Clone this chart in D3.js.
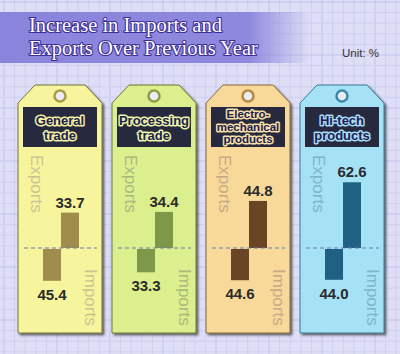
<!DOCTYPE html>
<html><head><meta charset="utf-8">
<script src="https://cdn.jsdelivr.net/npm/d3@7"></script>
<style>html,body{margin:0;padding:0;background:#dedef7;}svg{display:block;}</style>
</head><body>
<svg id="c" width="400" height="354"></svg>
<script>
// ---- data ----
const categories = ["General trade", "Processing trade", "Electro-mechanical products", "Hi-tech products"];
const categoryLines = [["General", "trade"], ["Processing", "trade"], ["Electro-", "mechanical", "products"], ["Hi-tech", "products"]];
const exportsIncrease = [33.7, 34.4, 44.8, 62.6];
const importsIncrease = [45.4, 33.3, 44.6, 44.0];
const seriesNames = ["Imports", "Exports"];
const titleLines = ["Increase in Imports and", "Exports Over Previous Year"];
const unitLabel = "Unit: %";

// ---- styles ----
const tagFill   = ["#f7f49e", "#dcef8e", "#f8d99a", "#a6e2f6"];
const tagStroke = ["#77733e", "#6a7838", "#86683a", "#3a7892"];
const sideText  = ["#c9c590", "#a9b97c", "#c6ab86", "#80b4c8"];
const barColor  = ["#a08c4c", "#7c9848", "#6a4424", "#1f6182"];
const ringColor = ["#a89c46", "#8aa040", "#b08a40", "#3d8aa8"];
const haloColor = ["#f4f0a0", "#eef6a8", "#f8e0a8", "#a8dcf8"];

const svg = d3.select("#c");
const W = 400, H = 354;

// background grid
svg.append("rect").attr("width", W).attr("height", H).attr("fill", "#dedef7");
const g0 = svg.append("g");
const gridStep = 10.6;
d3.range(4, W, gridStep).forEach((x, i) => g0.append("line").attr("x1", x).attr("x2", x).attr("y1", 0).attr("y2", H)
  .attr("stroke", i % 5 === 0 ? "#c2c2ea" : "#cfcff0").attr("stroke-width", 1));
d3.range(2, H, gridStep).forEach((y, i) => g0.append("line").attr("y1", y).attr("y2", y).attr("x1", 0).attr("x2", W)
  .attr("stroke", i % 5 === 0 ? "#c2c2ea" : "#cfcff0").attr("stroke-width", 1));

const defs = svg.append("defs");
const grad = defs.append("linearGradient").attr("id", "ban").attr("x1", "0").attr("x2", "1");
grad.append("stop").attr("offset", "0").attr("stop-color", "#8a84dc");
grad.append("stop").attr("offset", "0.8").attr("stop-color", "#8e88de");
grad.append("stop").attr("offset", "1").attr("stop-color", "#8e88de").attr("stop-opacity", 0);
const f = defs.append("filter").attr("id", "sh").attr("x", "-10%").attr("y", "-10%").attr("width", "130%").attr("height", "130%");
f.append("feDropShadow").attr("dx", 2).attr("dy", 2).attr("stdDeviation", 1.3).attr("flood-color", "#222").attr("flood-opacity", 0.65);

// title banner
svg.append("rect").attr("x", 0).attr("y", 12).attr("width", 310).attr("height", 51).attr("fill", "url(#ban)");
svg.append("g").selectAll("text").data(titleLines).join("text")
  .attr("x", 29).attr("y", (d, i) => 32 + i * 23)
  .attr("font-family", "Liberation Serif, Times New Roman, serif").attr("font-size", 20.5)
  .attr("fill", "#ffffff").attr("stroke", "#3c2e96").attr("stroke-width", 2.2)
  .attr("paint-order", "stroke").attr("stroke-linejoin", "round").text(d => d);

svg.append("text").attr("x", 342).attr("y", 57).attr("font-family", "Liberation Sans, Arial, sans-serif")
  .attr("font-size", 11.5).attr("fill", "#333").text(unitLabel);

// scales
const x = d3.scaleBand().domain(categories).range([18, 384]).paddingInner(10 / 94);
const w = x.bandwidth();
const xs = d3.scaleBand().domain(seriesNames).range([25, 61]);
const base = 248;
const yExp = d3.scaleLinear().domain([0, 70]).range([base, base - 73.5]);
const yImp = d3.scaleLinear().domain([0, 70]).range([base + 1, base + 50]);

const tags = svg.append("g").selectAll("g").data(categories).join("g")
  .attr("transform", d => `translate(${x(d)},0)`);

tags.append("path")
  .attr("d", `M17,85 L${w - 17},85 L${w},103 L${w},333 L0,333 L0,103 Z`)
  .attr("fill", (d, i) => tagFill[i]).attr("stroke", (d, i) => tagStroke[i]).attr("stroke-width", 1)
  .attr("filter", "url(#sh)");

// hole
tags.append("circle").attr("cx", w / 2).attr("cy", 96).attr("r", 5.5)
  .attr("fill", "#ececf8").attr("stroke", (d, i) => ringColor[i]).attr("stroke-width", 2.5);

// label box
tags.append("rect").attr("x", 5).attr("y", 107).attr("width", w - 10).attr("height", 40).attr("fill", "#272a3e");
tags.each(function (d, i) {
  const lines = categoryLines[i];
  const three = lines.length === 3;
  const fs = three ? 11.5 : 13;
  const y0 = three ? 118 : 125;
  const dy = three ? 12.5 : 15;
  d3.select(this).append("g").selectAll("text").data(lines).join("text")
    .attr("x", w / 2).attr("y", (t, j) => y0 + j * dy).attr("text-anchor", "middle")
    .attr("font-family", "Liberation Sans, Arial, sans-serif").attr("font-weight", "bold").attr("font-size", fs)
    .attr("fill", "#20204e").attr("stroke", haloColor[i]).attr("stroke-width", 3)
    .attr("paint-order", "stroke").attr("stroke-linejoin", "round").text(t => t);
});

// side labels
tags.append("text").attr("transform", "translate(13,155) rotate(90)")
  .attr("font-family", "Liberation Sans, Arial, sans-serif").attr("font-size", 17)
  .attr("fill", (d, i) => sideText[i]).text(seriesNames[1]);
tags.append("text").attr("transform", "translate(67,269) rotate(90)")
  .attr("font-family", "Liberation Sans, Arial, sans-serif").attr("font-size", 17)
  .attr("fill", (d, i) => sideText[i]).text(seriesNames[0]);

// bars
tags.append("rect").attr("x", xs("Exports")).attr("width", xs.bandwidth())
  .attr("y", (d, i) => yExp(exportsIncrease[i])).attr("height", (d, i) => base - yExp(exportsIncrease[i]))
  .attr("fill", (d, i) => barColor[i]);
tags.append("rect").attr("x", xs("Imports")).attr("width", xs.bandwidth())
  .attr("y", base + 1).attr("height", (d, i) => yImp(importsIncrease[i]) - (base + 1))
  .attr("fill", (d, i) => barColor[i]);

// baseline dashed
tags.append("line").attr("x1", 6).attr("x2", w - 5).attr("y1", base).attr("y2", base)
  .attr("stroke", "#6a78b4").attr("stroke-width", 1.2).attr("stroke-dasharray", "4,3");

// value labels
const valFont = "Liberation Sans, Arial, sans-serif";
tags.append("text").attr("x", xs("Exports") + xs.bandwidth() / 2).attr("y", (d, i) => yExp(exportsIncrease[i]) - 5)
  .attr("text-anchor", "middle").attr("font-family", valFont).attr("font-weight", "bold").attr("font-size", 15)
  .attr("fill", "#2b2b2b").text((d, i) => exportsIncrease[i].toFixed(1));
tags.append("text").attr("x", xs("Imports") + xs.bandwidth() / 2).attr("y", (d, i) => yImp(importsIncrease[i]) + 19)
  .attr("text-anchor", "middle").attr("font-family", valFont).attr("font-weight", "bold").attr("font-size", 15)
  .attr("fill", "#2b2b2b").text((d, i) => importsIncrease[i].toFixed(1));
</script>
</body></html>
